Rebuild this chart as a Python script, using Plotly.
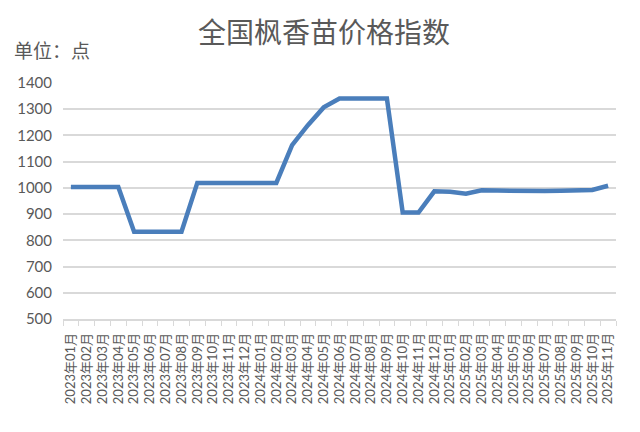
import plotly.graph_objects as go

# months 2023-01 .. 2025-11
months = []
for yy in [2023, 2024, 2025]:
    for mm in range(1, 13):
        if yy == 2025 and mm > 11:
            break
        months.append(f"{yy}年{mm:02d}月")

# index values (points)
values_2023 = [1003, 1003, 1003, 1003, 833, 833, 833, 833, 1019, 1019, 1019, 1019]
values_2024 = [1019, 1019, 1163, 1239, 1307, 1341, 1341, 1341, 1341, 906, 906, 987]
values_2025 = [985, 978, 991, 990, 989, 986, 988, 989, 990, 992, 1008]
index_values = values_2023 + values_2024 + values_2025

y_ticks = list(range(500, 1401, 100))

grey_text = "#595959"
grid_grey = "#d9d9d9"
font_fam = "Lato, Noto Sans CJK SC, sans-serif"

fig = go.Figure()
fig.add_trace(go.Scatter(
    x=months,
    y=index_values,
    mode="lines",
    line=dict(color="#4a7ebb", width=4.5),
    hoverinfo="x+y",
))

# page body has an 8px margin, so the figure is a bit smaller and shifted
fig.update_layout(
    width=632,
    height=424,
    margin=dict(l=55, r=24, t=75, b=113),
    plot_bgcolor="white",
    paper_bgcolor="white",
    showlegend=False,
    title=dict(
        text="全国枫香苗价格指数",
        x=0.5, xanchor="center",
        y=0.941, yanchor="middle",
        font=dict(family="Noto Sans CJK SC", size=28, color=grey_text),
    ),
    font=dict(family=font_fam, color=grey_text),
)

fig.add_annotation(
    text="单位：点",
    xref="paper", yref="paper",
    x=-0.092, y=1.14, xanchor="left", yanchor="middle",
    showarrow=False,
    font=dict(family="Noto Sans CJK SC", size=19, color=grey_text),
)

fig.update_xaxes(
    type="category",
    range=[-0.5, len(months) - 0.5],
    tickmode="array", tickvals=months, ticktext=months,
    tickangle=-90,
    tickfont=dict(family=font_fam, size=13, color=grey_text),
    showgrid=False,
    showline=True, linecolor=grid_grey, linewidth=1.5,
    ticks="outside", tickson="boundaries", ticklen=5, tickcolor=grid_grey,
    ticklabelstandoff=7,
    automargin=False,
)

fig.update_yaxes(
    range=[500, 1400],
    tickvals=y_ticks,
    tickfont=dict(family=font_fam, size=15, color=grey_text),
    showgrid=True, gridcolor=grid_grey, gridwidth=1.5,
    zeroline=False,
    ticklabelstandoff=10,
    automargin=False,
)

fig.write_html("out.html")
